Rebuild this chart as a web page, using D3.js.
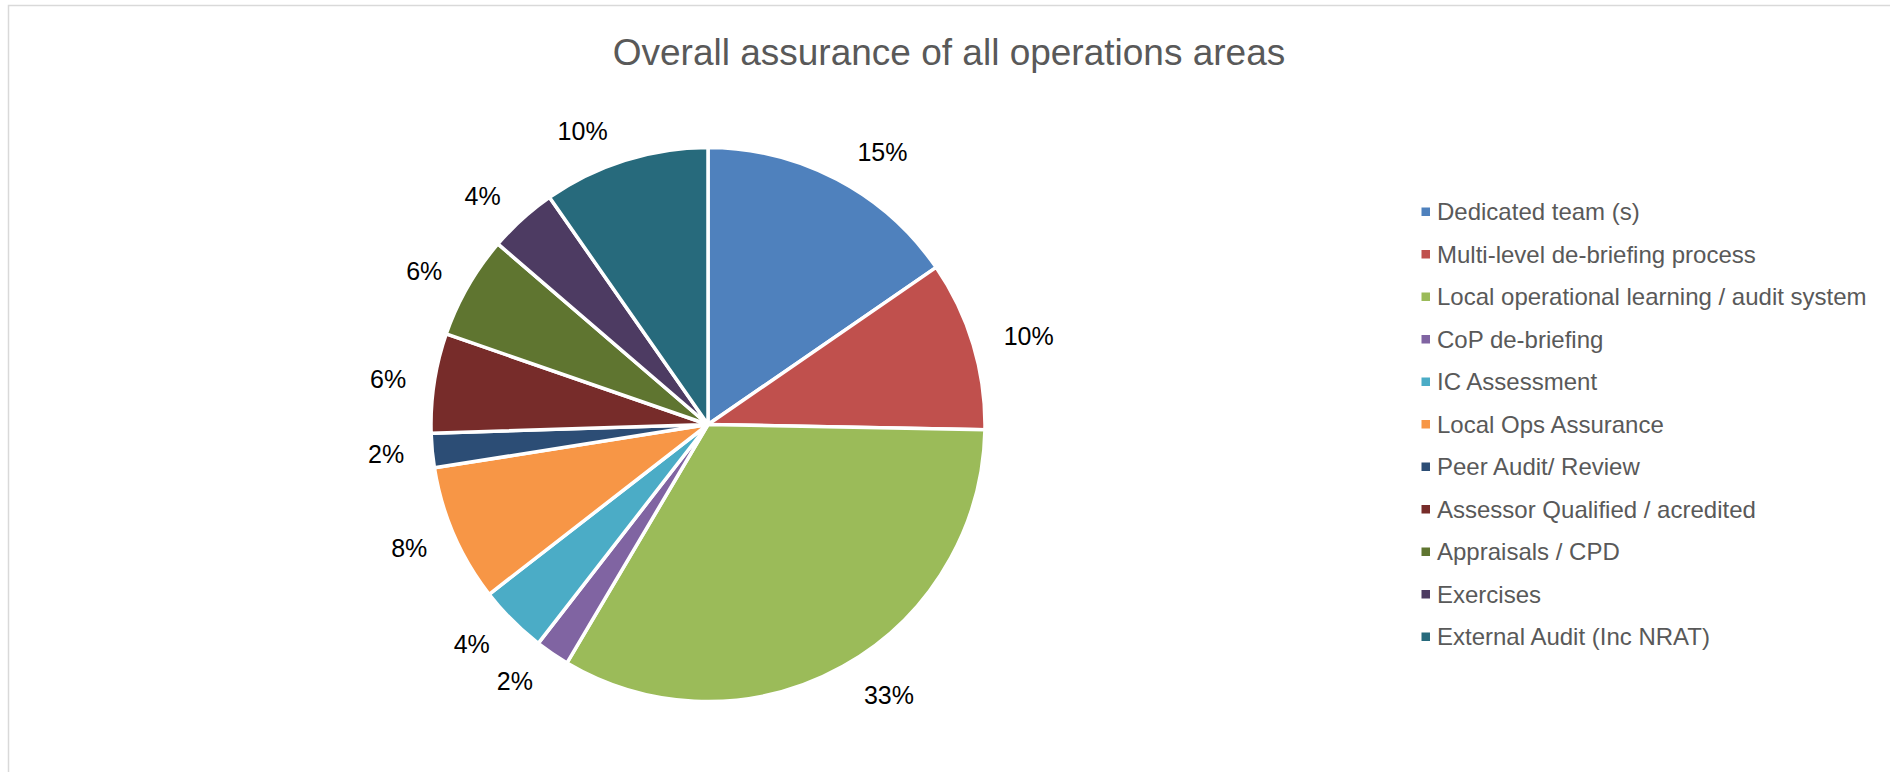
<!DOCTYPE html>
<html>
<head>
<meta charset="utf-8">
<script src="https://cdn.jsdelivr.net/npm/d3@7"></script>
<style>
  html, body { margin: 0; padding: 0; background: #fff; }
  svg { display: block; }
  text { font-family: "Liberation Sans", Arial, sans-serif; }
</style>
</head>
<body>
<svg id="chart" width="1890" height="772"></svg>
<script>
const title = "Overall assurance of all operations areas";
const categories = [
  "Dedicated team (s)",
  "Multi-level de-briefing process",
  "Local operational learning / audit system",
  "CoP de-briefing",
  "IC Assessment",
  "Local Ops Assurance",
  "Peer Audit/ Review",
  "Assessor Qualified / acredited",
  "Appraisals / CPD",
  "Exercises",
  "External Audit (Inc NRAT)"
];
const values = [15.4, 9.9, 33.2, 2.0, 4.0, 8.0, 2.0, 5.8, 6.0, 4.0, 9.7];
const colors = ["#4F81BD", "#C0504D", "#9BBB59", "#8064A2", "#4BACC6", "#F79646",
                "#2C4D75", "#772C2A", "#5F7530", "#4D3B62", "#276A7C"];

const W = 1890, H = 772;
const svg = d3.select("#chart");

// chart area border (partially visible)
svg.append("path")
  .attr("d", `M8.5,${H} L8.5,5.5 L${W},5.5`)
  .attr("fill", "none")
  .attr("stroke", "#d9d9d9")
  .attr("stroke-width", 1.5);

// title
svg.append("text")
  .attr("x", 949).attr("y", 65)
  .attr("text-anchor", "middle")
  .attr("font-size", 37)
  .attr("fill", "#595959")
  .text(title);

// pie
const cx = 708, cy = 424.5, R = 277;
const data = categories.map((c, i) => ({ name: c, value: values[i], color: colors[i] }));
const total = d3.sum(values);
const pie = d3.pie().sort(null).value(d => d.value);
const arcs = pie(data);
const arc = d3.arc().innerRadius(0).outerRadius(R);
const fmt = d3.format(".0%");

const g = svg.append("g").attr("transform", `translate(${cx},${cy})`);
g.selectAll("path.slice").data(arcs).join("path")
  .attr("class", "slice")
  .attr("d", arc)
  .attr("fill", d => d.data.color)
  .attr("stroke", "#fff")
  .attr("stroke-width", 3.5)
  .attr("stroke-linejoin", "round");

const Rx = 297, Ry = 309;
const mid = d => (d.startAngle + d.endAngle) / 2;
const labels = g.selectAll("text.lbl").data(arcs).join("text")
  .attr("class", "lbl")
  .attr("text-anchor", "middle")
  .attr("dy", "0.35em")
  .attr("font-size", 25)
  .attr("fill", "#000")
  .text(d => fmt(d.data.value / total));
labels.each(function(d) {
  const a = mid(d);
  const hw = this.getComputedTextLength() / 2;
  const s = Math.sin(a) >= 0 ? 1 : -1;
  d3.select(this)
    .attr("x", Math.sin(a) * Rx + s * 1.45 * hw)
    .attr("y", -Math.cos(a) * Ry + 1);
});

// legend
const ly = d3.scaleLinear().domain([0, categories.length - 1]).range([220, 645]);
const leg = svg.append("g");
const items = leg.selectAll("g").data(data).join("g")
  .attr("transform", (d, i) => `translate(1421.5,${ly(i)})`);
items.append("rect")
  .attr("x", 0).attr("y", -12.5)
  .attr("width", 8.5).attr("height", 8.5)
  .attr("fill", d => d.color);
items.append("text")
  .attr("x", 15.5).attr("y", 0)
  .attr("font-size", 24)
  .attr("fill", "#595959")
  .text(d => d.name);
</script>
</body>
</html>
